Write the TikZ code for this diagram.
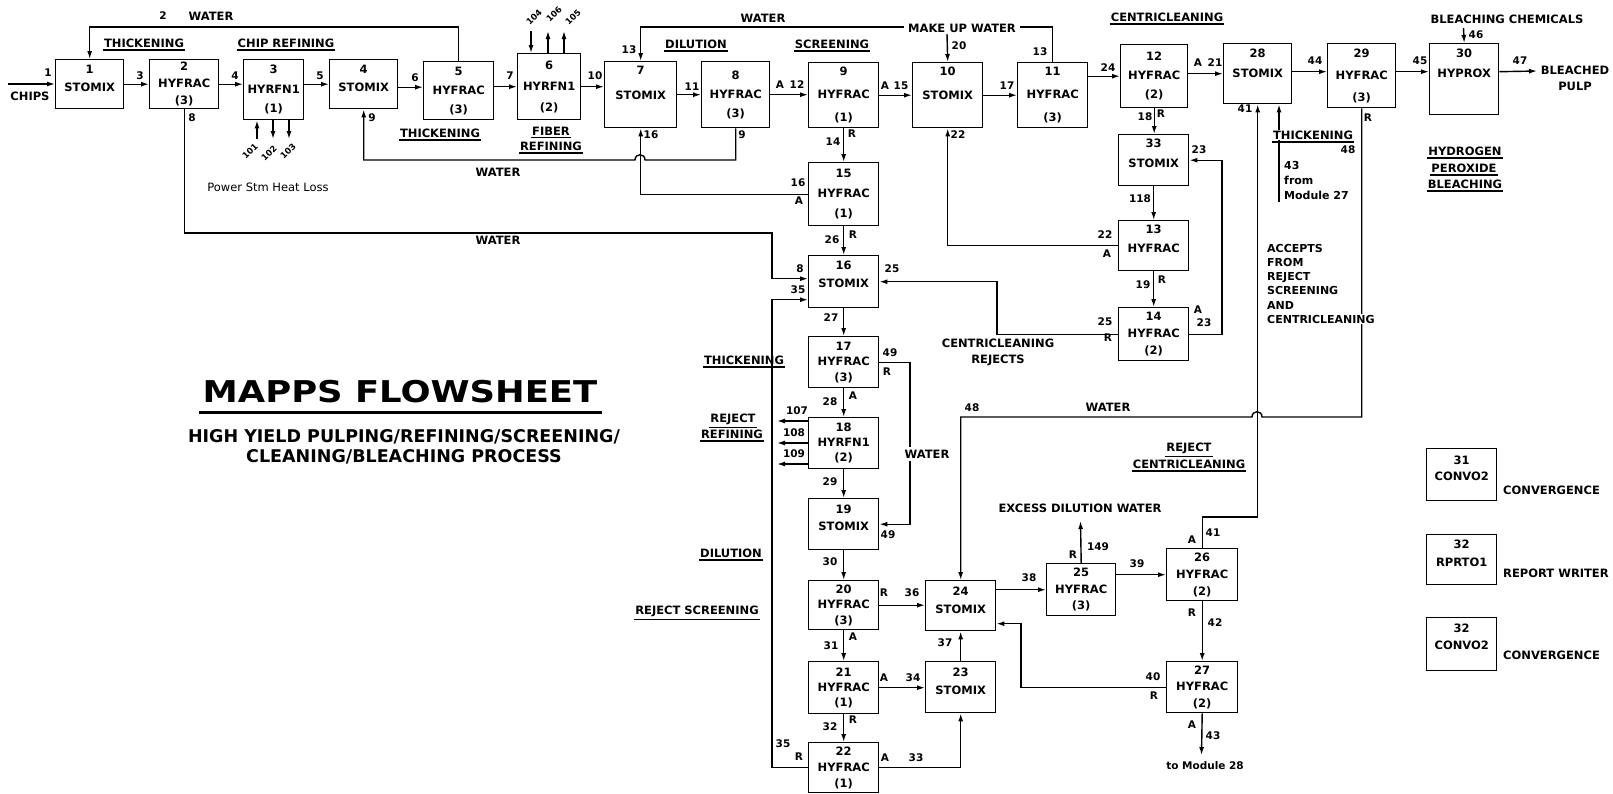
\documentclass[tikz,border=0pt]{standalone}
\usepackage{fontspec}
\setmainfont{DejaVu Sans}
\usepackage{graphicx}
\usetikzlibrary{arrows.meta}
\tikzset{
  modbox/.style={rectangle, draw, line width=1.4pt, anchor=north west, align=center,
              inner sep=0pt, font=\fontsize{11.5}{17}\selectfont\bfseries},
  sp/.style={font=\fontsize{11.5}{#1}\selectfont\bfseries},
  fl/.style={-{Latex[length=8pt,width=5pt]}, line width=1.4pt},
  nm/.style={font=\fontsize{10.5}{12}\selectfont\bfseries, inner sep=0.5pt},
  rot/.style={font=\fontsize{8.5}{10}\selectfont\bfseries, inner sep=0pt, rotate=45},
  tx/.style={font=\fontsize{11.5}{16}\selectfont\bfseries, inner sep=1pt},
  % underlined section heading
  hd/.style={font=\fontsize{11.5}{13}\selectfont\bfseries, inner sep=1pt,
             append after command={([yshift=-1.5pt]\tikzlastnode.south west)
               edge[line width=1.2pt] ([yshift=-1.5pt]\tikzlastnode.south east)}},
  notetxt/.style={font=\fontsize{11}{14.2}\selectfont\bfseries, align=left, inner sep=0pt}
}

\begin{document}
\begin{tikzpicture}[x=1pt, y=-1pt]
  \useasboundingbox (0,0) rectangle (1613,793);

  % --- main line ---
  \node[modbox, sp=18, text depth=11pt, minimum width=68, minimum height=49] (u1) at (55,59) {1\\STOMIX};
  \node[modbox, sp=17, minimum width=69, minimum height=49] (u2) at (149,59) {2\\HYFRAC\\(3)};
  \node[modbox, sp=19.5, minimum width=60, minimum height=60] (u3) at (243,59) {3\\HYRFN1\\(1)};
  \node[modbox, sp=18, text depth=11pt, minimum width=68, minimum height=49] (u4) at (329,59) {4\\STOMIX};
  \node[modbox, sp=19, minimum width=70, minimum height=58] (u5) at (423,61) {5\\HYFRAC\\(3)};
  \node[modbox, sp=21, minimum width=63, minimum height=66] (u6) at (517,53) {6\\HYRFN1\\(2)};
  \node[modbox, sp=25, text depth=23pt, minimum width=72, minimum height=66] (u7) at (604,61) {7\\STOMIX};
  \node[modbox, sp=19, minimum width=68, minimum height=66] (u8) at (701,61) {8\\HYFRAC\\(3)};
  \node[modbox, sp=23, minimum width=70, minimum height=65] (u9) at (808,62) {9\\HYFRAC\\(1)};
  \node[modbox, sp=24, text depth=23pt, minimum width=70, minimum height=65] (u10) at (912,62) {10\\STOMIX};
  \node[modbox, sp=23, minimum width=70, minimum height=65] (u11) at (1017,62) {11\\HYFRAC\\(3)};
  \node[modbox, sp=19, minimum width=67, minimum height=63] (u12) at (1120,44) {12\\HYFRAC\\(2)};
  \node[modbox, sp=20, text depth=20pt, minimum width=68, minimum height=60] (u28) at (1223,43) {28\\STOMIX};
  \node[modbox, sp=22, minimum width=68, minimum height=64] (u29) at (1327,43) {29\\HYFRAC\\(3)};
  \node[modbox, sp=20, text depth=31pt, minimum width=69, minimum height=71] (u30) at (1429,43) {30\\HYPROX};

  % --- centricleaning ---
  \node[modbox, sp=20, text depth=13pt, minimum width=70, minimum height=51] (u33) at (1118,134) {33\\STOMIX};
  \node[modbox, sp=19, text depth=13pt, minimum width=70, minimum height=50] (u13) at (1118,220) {13\\HYFRAC};
  \node[modbox, sp=17, minimum width=70, minimum height=53] (u14) at (1118,307) {14\\HYFRAC\\(2)};

  % --- reject line ---
  \node[modbox, sp=20, minimum width=70, minimum height=63] (u15) at (808,162) {15\\HYFRAC\\(1)};
  \node[modbox, sp=18, text depth=14pt, minimum width=70, minimum height=52] (u16) at (808,255) {16\\STOMIX};
  \node[modbox, sp=15.5, minimum width=70, minimum height=51] (u17) at (808,336) {17\\HYFRAC\\(3)};
  \node[modbox, sp=15, minimum width=70, minimum height=51] (u18) at (808,417) {18\\HYRFN1\\(2)};
  \node[modbox, sp=17, text depth=12pt, minimum width=70, minimum height=51] (u19) at (808,498) {19\\STOMIX};
  \node[modbox, sp=15.5, minimum width=70, minimum height=49] (u20) at (808,580) {20\\HYFRAC\\(3)};
  \node[modbox, sp=15, minimum width=70, minimum height=52] (u21) at (808,661) {21\\HYFRAC\\(1)};
  \node[modbox, sp=16, minimum width=70, minimum height=50] (u22) at (808,742) {22\\HYFRAC\\(1)};
  \node[modbox, sp=18, text depth=10pt, minimum width=70, minimum height=50] (u24) at (925,580) {24\\STOMIX};
  \node[modbox, sp=18, text depth=11pt, minimum width=70, minimum height=51] (u23) at (925,661) {23\\STOMIX};
  \node[modbox, sp=16.5, minimum width=69, minimum height=52] (u25) at (1046,563) {25\\HYFRAC\\(3)};
  \node[modbox, sp=17, minimum width=71, minimum height=52] (u26) at (1166,548) {26\\HYFRAC\\(2)};
  \node[modbox, sp=16.5, minimum width=71, minimum height=51] (u27) at (1166,661) {27\\HYFRAC\\(2)};

  % --- utility modules ---
  \node[modbox, sp=16, text depth=13pt, minimum width=70, minimum height=52] (u31) at (1426,448) {31\\CONVO2};
  \node[modbox, sp=18, text depth=12pt, minimum width=70, minimum height=50] (u32) at (1426,534) {32\\RPRTO1};
  \node[modbox, sp=17, text depth=14pt, minimum width=70, minimum height=53] (u32b) at (1426,617) {32\\CONVO2};
  \node[tx, anchor=west] (conv1) at (1502,490) {CONVERGENCE};
  \node[tx, anchor=west] (rpt) at (1502,573) {REPORT WRITER};
  \node[tx, anchor=west] (conv2) at (1502,655) {CONVERGENCE};

  % --- free ends and bends ---
  \coordinate (chips) at (8,84);
  \coordinate (top) at (0,27);
  \coordinate (mkup) at (947,34);
  \coordinate (chem) at (1463.5,28);
  \coordinate (pulp) at (1537,71);
  \coordinate (s101) at (257,139);
  \coordinate (s102) at (273,139);
  \coordinate (s103) at (289,139);
  \coordinate (s104) at (531,31);
  \coordinate (s106) at (548,31);
  \coordinate (s105) at (564,31);
  \coordinate (w8) at (772,233);
  \coordinate (w9) at (0,160);
  \coordinate (c25) at (997,300);
  \coordinate (c23) at (1222,250);
  \coordinate (c49) at (910,450);
  \coordinate (c35) at (772,500);
  \coordinate (r107) at (777,421);
  \coordinate (r108) at (777,443);
  \coordinate (r109) at (777,464);
  \coordinate (wl) at (0,417);
  \coordinate (c41) at (1230,517);
  \coordinate (c40) at (1021,650);
  \coordinate (ex149) at (1080.5,521);
  \coordinate (mod28) at (1201.5,755);
  \coordinate (from27) at (1279,202);

  % --- main line flows ---
  \draw[fl] (chips) -- (chips -| u1.west);
  \draw[fl] (u1.east) -- (u2.west);
  \draw[fl] (u2.east) -- (u2.east -| u3.west);
  \draw[fl] (u3.east |- u4.west) -- (u4.west);
  \draw[fl] ([yshift=-3]u4.east) -- ([yshift=-3]u4.east -| u5.west);
  \draw[fl] (u6.west -| u5.east) -- (u6.west);
  \draw[fl] (u6.east) -- (u6.east -| u7.west);
  \draw[fl] (u7.east) -- (u8.west);
  \draw[fl] (u8.east) -- (u8.east -| u9.west);
  \draw[fl] (u9.east) -- (u10.west);
  \draw[fl] (u10.east) -- (u11.west);
  \draw[fl] (u12.west -| u11.east) -- (u12.west);
  \draw[fl] (u28.west -| u12.east) -- (u28.west);
  \draw[fl] ([yshift=2]u28.east) -- ([yshift=2]u28.east -| u29.west);
  \draw[fl] ([yshift=2]u28.east -| u29.east) -- ([yshift=2]u28.east -| u30.west);
  \draw[fl] ([yshift=2]u28.east -| u30.east) -- (pulp);
  \draw[fl] (chem) -- (u30.north);

  % --- refiner streams ---
  \draw[fl] (s101) -- (s101 |- u3.south);
  \draw[fl] (u3.south -| s102) -- (s102);
  \draw[fl] (u3.south -| s103) -- (s103);
  \draw[fl] (s104) -- (s104 |- u6.north);
  \draw[fl] (u6.north -| s106) -- (s106);
  \draw[fl] (u6.north -| s105) -- (s105);
  \draw[fl] (u18.west |- r107) -- (r107);
  \draw[fl] (u18.west |- r108) -- (r108);
  \draw[fl] (u18.west |- r109) -- (r109);

  % --- water loops ---
  \draw[fl] (u5.north) -- (u5.north |- top) -| (u1.north);
  \draw[fl] (u11.north) -- (u11.north |- top) -| (u7.north);
  \draw[fl] (mkup) -- (u10.north);
  \draw[fl] (u8.south) -- (u8.south |- w9) -- (645,160)
    .. controls (645,153) and (635,153) .. (635,160) -- (u4.south |- w9) -- (u4.south);
  \draw[fl] (u15.west) -| (u7.south);
  \draw[fl] (u2.south) |- (w8) |- ([yshift=3]u16.west);

  % --- screening and cleaning ---
  \draw[fl] (u9.south) -- (u15.north);
  \draw[fl] (u13.west) -| (u10.south);
  \draw[fl] (u12.south) -- (u12.south |- u33.north);
  \draw[fl] (u33.south) -- (u13.north);
  \draw[fl] (u13.south) -- (u14.north);
  \draw[fl] (u14.west) -- (u14.west -| c25) |- (u16.east);
  \draw[fl] (u14.east) -- (u14.east -| c23) |- (u33.east);

  % --- reject line flows ---
  \draw[fl] (u15.south) -- (u16.north);
  \draw[fl] (u16.south) -- (u17.north);
  \draw[fl] (u17.south) -- (u18.north);
  \draw[fl] (u18.south) -- (u19.north);
  \draw[fl] (u19.south) -- (u20.north);
  \draw[fl] (u20.south) -- (u21.north);
  \draw[fl] (u21.south) -- (u22.north);
  \draw[fl] (u20.east) -- (u20.east -| u24.west);
  \draw[fl] (u21.east) -- (u21.east -| u23.west);
  \draw[fl] (u23.north) -- (u24.south);
  \draw[fl] (u22.east) -| (u23.south);
  \draw[fl] (u22.west) -- (u22.west -| c35) |- ([yshift=-18]u16.west);
  \draw[fl] (u17.east) -- (u17.east -| c49) |- (u19.east);

  % --- reject centricleaning ---
  \draw[fl] (u29.south) -- (u29.south |- wl) -- (1262,417)
    .. controls (1262,410) and (1252,410) .. (1252,417) -- (u24.north |- wl) -- (u24.north);
  \draw[fl] (u25.west -| u24.east) -- (u25.west);
  \draw[fl] (u26.west -| u25.east) -- (u26.west);
  \draw[fl] (u25.north) -- (ex149);
  \draw[fl] (u26.south) -- (u27.north);
  \draw[fl] (u27.west) -- (u27.west -| c40) |- ([yshift=-18]u24.east);
  \draw[fl] (u27.south) -- (mod28);
  \draw[fl] (u26.north) |- (c41) -| (u28.south);
  \draw[fl] (from27) -- (from27 |- u28.south);

  % --- stream numbers ---
  \node[nm] (n1) at (48,73) {1};
  \node[tx] (lchips) at (30,96) {CHIPS};
  \node[nm] (n3) at (140,76) {3};
  \node[nm] (n4) at (235,76) {4};
  \node[nm] (n5) at (320,76) {5};
  \node[nm] (n6) at (415,78) {6};
  \node[nm] (n7) at (510,76) {7};
  \node[nm] (n10) at (595,76) {10};
  \node[nm] (n11) at (692,87) {11};
  \node[nm] (a12) at (780,85) {A};
  \node[nm] (n12) at (797,85) {12};
  \node[nm] (a15) at (885,86) {A};
  \node[nm] (n15) at (901,86) {15};
  \node[nm] (n17) at (1007,86) {17};
  \node[nm] (n24) at (1108,68) {24};
  \node[nm] (a21) at (1198,63) {A};
  \node[nm] (n21) at (1215,63) {21};
  \node[nm] (n44) at (1315,61) {44};
  \node[nm] (n45) at (1420,61) {45};
  \node[nm] (n47) at (1520,61) {47};
  \node[nm] (n46) at (1476,35) {46};
  \node[nm] (n2) at (163,16) {2};
  \node[nm] (n8a) at (192,118) {8};
  \node[nm] (n9a) at (372,118) {9};
  \node[nm] (n16a) at (651,135) {16};
  \node[nm] (n9b) at (742,135) {9};
  \node[nm] (n14) at (833,142) {14};
  \node[nm] (r14) at (852,134) {R};
  \node[nm] (n22a) at (958,135) {22};
  \node[nm] (n20) at (959,46) {20};
  \node[nm] (n13a) at (629,50) {13};
  \node[nm] (n13b) at (1040,52) {13};
  \node[nm] (n18) at (1145,117) {18};
  \node[nm] (r18) at (1161,114) {R};
  \node[nm] (n41a) at (1245,109) {41};
  \node[nm] (r48) at (1368,118) {R};
  \node[nm] (n48a) at (1348,150) {48};
  \node[nm] (n23a) at (1199,150) {23};
  \node[nm] (n118) at (1140,199) {118};
  \node[nm] (n22b) at (1105,235) {22};
  \node[nm] (a22) at (1107,254) {A};
  \node[nm] (n19) at (1143,285) {19};
  \node[nm] (r19) at (1162,280) {R};
  \node[nm] (a23) at (1198,310) {A};
  \node[nm] (n23b) at (1204,323) {23};
  \node[nm] (n25a) at (1105,322) {25};
  \node[nm] (r25) at (1108,338) {R};
  \node[nm] (n16b) at (798,183) {16};
  \node[nm] (a16) at (799,201) {A};
  \node[nm] (n26) at (832,240) {26};
  \node[nm] (r26) at (853,235) {R};
  \node[nm] (n25b) at (892,269) {25};
  \node[nm] (n8b) at (800,269) {8};
  \node[nm] (n35a) at (798,290) {35};
  \node[nm] (n27) at (831,318) {27};
  \node[nm] (n49a) at (890,353) {49};
  \node[nm] (r49) at (887,372) {R};
  \node[nm] (n28) at (830,402) {28};
  \node[nm] (a28) at (853,396) {A};
  \node[nm] (n107) at (797,411) {107};
  \node[nm] (n108) at (794,433) {108};
  \node[nm] (n109) at (794,454) {109};
  \node[nm] (n29) at (830,482) {29};
  \node[nm] (n49b) at (888,535) {49};
  \node[nm] (n30) at (830,562) {30};
  \node[nm] (r36) at (884,593) {R};
  \node[nm] (n36) at (912,593) {36};
  \node[nm] (n31) at (831,646) {31};
  \node[nm] (a31) at (853,637) {A};
  \node[nm] (n37) at (945,643) {37};
  \node[nm] (a34) at (884,678) {A};
  \node[nm] (n34) at (913,678) {34};
  \node[nm] (n32) at (830,727) {32};
  \node[nm] (r32) at (853,720) {R};
  \node[nm] (n35b) at (783,744) {35};
  \node[nm] (r35) at (799,757) {R};
  \node[nm] (a33) at (885,758) {A};
  \node[nm] (n33) at (916,758) {33};
  \node[nm] (n48b) at (972,408) {48};
  \node[nm] (n38) at (1029,578) {38};
  \node[nm] (r149) at (1073,555) {R};
  \node[nm] (n149) at (1098,547) {149};
  \node[nm] (n39) at (1137,564) {39};
  \node[nm] (n41b) at (1213,533) {41};
  \node[nm] (a41) at (1192,540) {A};
  \node[nm] (r42) at (1192,613) {R};
  \node[nm] (n42) at (1215,623) {42};
  \node[nm] (n40) at (1153,677) {40};
  \node[nm] (r40) at (1154,696) {R};
  \node[nm] (a43) at (1192,725) {A};
  \node[nm] (n43) at (1213,736) {43};
  \node[rot] (n101) at (250,151) {101};
  \node[rot] (n102) at (269,153) {102};
  \node[rot] (n103) at (288,151) {103};
  \node[rot] (n104) at (534,17) {104};
  \node[rot] (n106) at (554,14) {106};
  \node[rot] (n105) at (573,17) {105};

  % --- plain labels ---
  \node[tx] (wtr2) at (211,16) {WATER};
  \node[tx] (wtr13) at (763,18) {WATER};
  \node[tx] (wtr9) at (498,172) {WATER};
  \node[tx] (wtr8) at (498,240) {WATER};
  \node[tx] (wtr48) at (1108,407) {WATER};
  \node[tx] (chemt) at (1507,19) {BLEACHING CHEMICALS};
  \node[tx, align=center] (pulpt) at (1575,78) {BLEACHED\\PULP};
  \node[font=\fontsize{11.5}{13}\selectfont, inner sep=0pt] (heat) at (268,187) {Power Stm Heat Loss};
  \node[tx, align=center] (crej) at (998,352) {CENTRICLEANING\\REJECTS};
  \node[tx] (exw) at (1080,508) {EXCESS DILUTION WATER};
  \node[nm] (tomod) at (1205,766) {to Module 28};
  \node[notetxt, font=\fontsize{11}{15}\selectfont\bfseries, anchor=north west] (from) at (1284,161) {43\\from\\Module 27};
  \node[notetxt, anchor=north west] (acc) at (1267,244) {ACCEPTS\\FROM\\REJECT\\SCREENING\\AND};

  % --- section headings ---
  \node[hd] (h1) at (144,43) {THICKENING};
  \node[hd] (h2) at (286,43) {CHIP REFINING};
  \node[hd] (h3) at (440,133) {THICKENING};
  \node[hd] (h4) at (551,131) {FIBER};
  \node[hd] (h5) at (551,146) {REFINING};
  \node[hd] (h6) at (696,44) {DILUTION};
  \node[hd] (h7) at (832,44) {SCREENING};
  \node[hd] (h8) at (1167,17) {CENTRICLEANING};
  \node[hd] (h10) at (1465,151) {HYDROGEN};
  \node[hd] (h11) at (1464,168) {PEROXIDE};
  \node[hd] (h12) at (1465,184) {BLEACHING};
  \node[hd] (h13) at (744,360) {THICKENING};
  \node[hd] (h14) at (733,419) {REJECT};
  \node[hd] (h15) at (732,434) {REFINING};
  \node[hd] (h16) at (731,553) {DILUTION};
  \node[hd] (h17) at (697,611) {REJECT SCREENING};
  \node[hd] (h18) at (1189,448) {REJECT};
  \node[hd] (h19) at (1189,464) {CENTRICLEANING};

  % --- labels sitting on lines ---
  \node[tx, fill=white, inner xsep=4pt] (mkupt) at (962,28) {MAKE UP WATER};
  \node[tx, fill=white, inner ysep=3pt] (wtr49) at (927,454) {WATER};
  \node[hd, fill=white] (h9) at (1313,135) {THICKENING};
  \node[tx, font=\fontsize{11}{13}\selectfont\bfseries, fill=white, anchor=west] (acc2) at (1266,319) {CENTRICLEANING};

  % --- title ---
  \node[inner sep=0pt, font=\fontsize{30}{32}\selectfont\bfseries] (ttl) at (400,392)
    {\scalebox{1.18}[1]{MAPPS FLOWSHEET}};
  \draw[line width=2.5pt] ([xshift=-4,yshift=-9]ttl.south west) -- ([xshift=4,yshift=-9]ttl.south east);
  \node[align=center, inner sep=0pt, font=\fontsize{17.5}{20}\selectfont\bfseries] (sub) at (404,447)
    {HIGH YIELD PULPING/REFINING/SCREENING/\\CLEANING/BLEACHING PROCESS};
\end{tikzpicture}
\end{document}
